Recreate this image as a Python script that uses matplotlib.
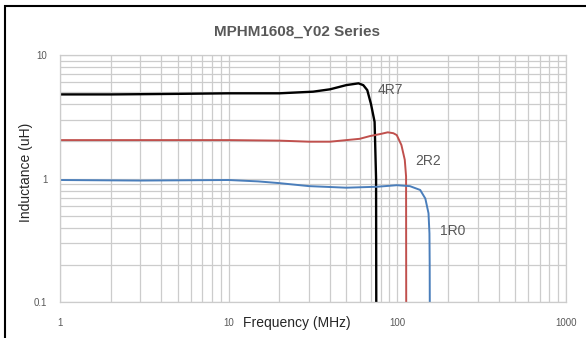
import matplotlib
matplotlib.use("Agg")
import matplotlib.pyplot as plt
from matplotlib.patches import Rectangle
from matplotlib.ticker import FixedLocator, NullFormatter, LogLocator

plt.rcParams['font.family'] = ['Liberation Sans', 'DejaVu Sans']

# ---- data ----
title = "MPHM1608_Y02 Series"
x_label = "Frequency (MHz)"
y_label = "Inductance (uH)"
x_ticks = [1, 10, 100, 1000]
x_tick_labels = ["1", "10", "100", "1000"]
y_ticks = [0.1, 1, 10]
y_tick_labels = ["0.1", "1", "10"]

series_names = ["4R7", "2R2", "1R0"]

f_4r7 = [1, 2, 3, 5, 10, 20, 31.7, 40, 50, 59, 63, 66.5, 70, 73.5, 75, 75.2]
L_4r7 = [4.8, 4.8, 4.82, 4.85, 4.9, 4.9, 5.05, 5.28, 5.71, 5.9, 5.7, 5.2, 4.0, 2.88, 1.0, 0.1]

f_2r2 = [1, 3, 10, 20, 30, 40, 60, 69, 80, 88, 95, 99.5, 106, 111, 113, 113.2]
L_2r2 = [2.05, 2.05, 2.05, 2.03, 1.99, 1.99, 2.1, 2.21, 2.3, 2.37, 2.33, 2.25, 1.87, 1.42, 1.04, 0.1]

f_1r0 = [1, 3, 10, 15, 20, 30, 50, 76, 99.5, 119, 137, 147, 153.5, 155.5, 156, 156.2]
L_1r0 = [0.975, 0.965, 0.975, 0.95, 0.92, 0.87, 0.845, 0.86, 0.885, 0.87, 0.81, 0.69, 0.525, 0.36, 0.2, 0.1]

label_pos_f = [90.7, 152, 214]
label_pos_L = [5.2, 1.39, 0.377]

colors = ["#000000", "#c0504d", "#4a7ebb"]
widths = [1.7, 1.4, 1.4]

W, H = 586, 338
fig = plt.figure(figsize=(W / 100, H / 100), dpi=100)
ax = fig.add_axes([60 / W, 1 - 302.3 / H, 505.7 / W, 247.3 / H])

ax.set_xscale('log')
ax.set_yscale('log')
ax.set_xlim(1, 1000)
ax.set_ylim(0.1, 10)

grid_c = "#cccccc"
ax.xaxis.set_major_locator(FixedLocator(x_ticks))
ax.yaxis.set_major_locator(FixedLocator(y_ticks))
ax.xaxis.set_minor_locator(LogLocator(base=10, subs=range(2, 10)))
ax.yaxis.set_minor_locator(LogLocator(base=10, subs=range(2, 10)))
ax.xaxis.set_minor_formatter(NullFormatter())
ax.yaxis.set_minor_formatter(NullFormatter())
ax.set_xticklabels(x_tick_labels)
ax.set_yticklabels(y_tick_labels)
ax.grid(True, which='both', color=grid_c, linewidth=0.9)
ax.tick_params(which='both', length=0, labelsize=7, colors="#595959")
ax.tick_params(axis='x', pad=11)
ax.tick_params(axis='y', pad=9)
for s in ax.spines.values():
    s.set_color(grid_c)
    s.set_linewidth(0.9)

fs = [f_4r7, f_2r2, f_1r0]
Ls = [L_4r7, L_2r2, L_1r0]
for f, L, c, lw in zip(fs, Ls, colors, widths):
    ax.plot(f, L, color=c, linewidth=lw, solid_joinstyle='round')

for name, xf, yl in zip(series_names, label_pos_f, label_pos_L):
    ax.text(xf, yl, name, ha='center', va='center', fontsize=10, color="#595959")

fig.text(297 / W, 1 - 31.5 / H, title, ha='center', va='center',
         fontsize=11, fontweight='bold', color="#595959")
fig.text(297 / W, 1 - 323 / H, x_label, ha='center', va='center',
         fontsize=10, color="#262626")
fig.text(26 / W, 1 - 172 / H, y_label, ha='center', va='center',
         fontsize=10, rotation=90, color="#262626")

# outer frame (left and top edges visible)
fig.patches.append(Rectangle((4.7 / W, -0.1), 1.2, 1 - 6 / H + 0.1,
                             transform=fig.transFigure, fill=False,
                             edgecolor="#000000", linewidth=1.5))

fig.savefig("out.png", dpi=100)
